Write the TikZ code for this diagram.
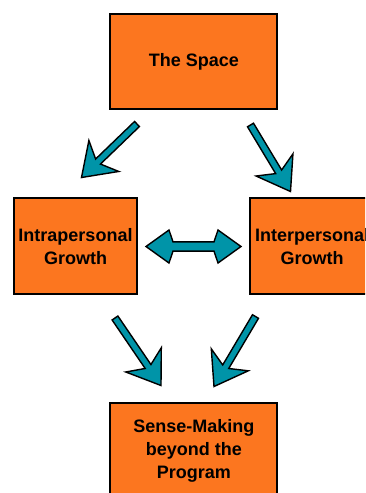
\documentclass[tikz,border=0pt]{standalone}
\usepackage{fontspec}
\setmainfont{Liberation Sans}
\usetikzlibrary{calc}
\definecolor{boxorange}{RGB}{252,118,31}
\definecolor{arrteal}{RGB}{0,148,168}
\tikzset{
  box/.style={draw=black, line width=2pt, fill=boxorange, inner sep=0pt,
    align=center, font=\bfseries\fontsize{18}{22.8}\selectfont},
  blockarrow/.style={draw=black, line width=1.4pt, fill=arrteal, line join=miter}
}
% tail, tip, shaft half-width, junction distance, head length, head half-width
\newcommand\blockarr[6]{%
  \coordinate (J) at ($(#2)!#4!(#1)$);
  \coordinate (B) at ($(#2)!#5!(#1)$);
  \draw[blockarrow] ($(#1)!#3!90:(#2)$) -- ($(J)!#3!90:(#2)$) -- ($(B)!#6!90:(#2)$)
    -- (#2) -- ($(B)!#6!-90:(#2)$) -- ($(J)!#3!-90:(#2)$) -- ($(#1)!#3!-90:(#2)$) -- cycle;
}
\begin{document}
\begin{tikzpicture}[x=1pt,y=-1pt]
  \useasboundingbox (0,0) rectangle (365,493);
  \fill[white] (0,0) rectangle (365,493);
  \clip (0,0) rectangle (365,493);
  % boxes
  \node[box, minimum width=167pt, minimum height=94.7pt] (space) at (193.8,61.7) {The Space};
  \node[box, minimum width=123.6pt, minimum height=96pt] (intra) at (75.5,246.3) {Intrapersonal\\Growth};
  \node[box, minimum width=123.6pt, minimum height=96pt] (inter) at (312.1,246.3) {Interpersonal\\Growth};
  \node[box, minimum width=167pt, minimum height=97pt] (sense) at (193.8,451) {Sense-Making\\beyond the\\Program};
  % arrow end points
  \coordinate (a1t) at (137,124);   \coordinate (a1h) at (81.5,177.5);
  \coordinate (a2t) at (250.5,125); \coordinate (a2h) at (290.5,191.5);
  \coordinate (a3t) at (115,318);   \coordinate (a3h) at (161,385.5);
  \coordinate (a4t) at (255.5,316.5); \coordinate (a4h) at (214,386.5);
  \coordinate (lt) at (146,246.5);  \coordinate (rt) at (241,246.5);
  % diagonal arrows
  \blockarr{a1t}{a1h}{3.5pt}{23pt}{31pt}{21.5pt}
  \blockarr{a2t}{a2h}{3.5pt}{23pt}{31pt}{21.5pt}
  \blockarr{a3t}{a3h}{3.5pt}{23pt}{31pt}{21.5pt}
  \blockarr{a4t}{a4h}{3.5pt}{23pt}{31pt}{21.5pt}
  % double arrow
  \coordinate (LJ) at ($(lt)!27pt!(rt)$);
  \coordinate (LB) at ($(lt)!23pt!(rt)$);
  \coordinate (RJ) at ($(rt)!27pt!(lt)$);
  \coordinate (RB) at ($(rt)!23pt!(lt)$);
  \draw[blockarrow] (lt) -- ($(LB)!16.5pt!90:(rt)$) -- ($(LJ)!4.6pt!90:(rt)$)
    -- ($(RJ)!4.6pt!-90:(lt)$) -- ($(RB)!16.5pt!-90:(lt)$) -- (rt)
    -- ($(RB)!16.5pt!90:(lt)$) -- ($(RJ)!4.6pt!90:(lt)$)
    -- ($(LJ)!4.6pt!-90:(rt)$) -- ($(LB)!16.5pt!-90:(rt)$) -- cycle;
\end{tikzpicture}
\end{document}
